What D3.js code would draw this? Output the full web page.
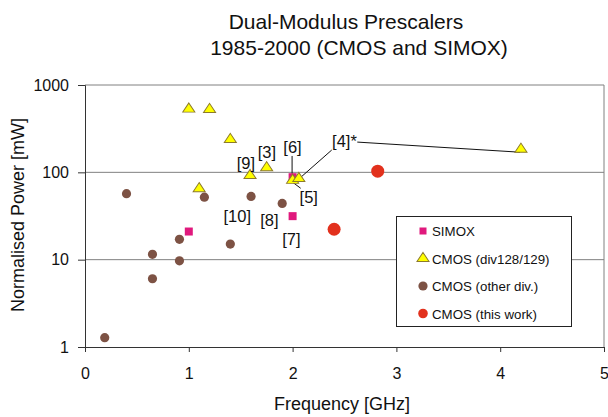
<!DOCTYPE html>
<html>
<head>
<meta charset="utf-8">
<script src="https://cdn.jsdelivr.net/npm/d3@7"></script>
<style>
  body { margin: 0; background: #fff; }
  svg { display: block; font-family: "Liberation Sans", Arial, sans-serif; }
</style>
</head>
<body>
<div id="chart"></div>
<script>
// series: frequency [GHz] / normalised power [mW]
var simoxFreq = [1.0, 2.0, 2.0];
var simoxPower = [21, 31.5, 88];

var div128Freq = [1.0, 1.2, 1.4, 1.59, 1.75, 1.1, 2.0, 2.06, 4.2];
var div128Power = [530, 525, 238, 92, 113, 65, 81, 85, 184];

var otherFreq = [0.40, 1.15, 1.60, 1.90, 1.40, 0.91, 0.65, 0.91, 0.65, 0.19];
var otherPower = [57, 52, 53, 44, 15.1, 17.1, 11.5, 9.7, 6.05, 1.28];

var thisFreq = [2.82, 2.40];
var thisPower = [103, 22.3];

var xTicks = [0, 1, 2, 3, 4, 5];
var yTicks = [1, 10, 100, 1000];

// reference labels, anchored in data units
var refLabels = ['[9]', '[3]', '[6]', '[4]*', '[5]', '[10]', '[8]', '[7]'];
var refLabelFreq = [1.55, 1.753, 1.999, 2.50, 2.156, 1.467, 1.776, 1.988];
var refLabelPower = [109, 147, 168, 197, 44, 27.2, 24.3, 14.7];

// leader lines [x1, y1, x2, y2]
var leaders = [
  [1.995, 154, 1.995, 89],
  [2.377, 180, 2.068, 85.5],
  [2.623, 222, 4.19, 170],
  [2.078, 65.7, 1.994, 78]
];

var legendNames = ['SIMOX', 'CMOS (div128/129)', 'CMOS (other div.)', 'CMOS (this work)'];

var W = 608, H = 417;
var svg = d3.select('#chart').append('svg').attr('width', W).attr('height', H);

var x = d3.scaleLinear().domain([0, 5]).range([85, 604]);
var y = d3.scaleLog().domain([1, 1000]).range([347, 85]);

var zip = function(fs, ps) {
  return fs.map(function(f, i) { return {f: f, p: ps[i]}; });
};

// title
svg.append('text').attr('x', 346).attr('y', 29).attr('text-anchor', 'middle')
  .attr('font-size', 21).attr('fill', '#111').text('Dual-Modulus Prescalers');
svg.append('text').attr('x', 359).attr('y', 55).attr('text-anchor', 'middle')
  .attr('font-size', 21).attr('fill', '#111').text('1985-2000 (CMOS and SIMOX)');

// grid lines
svg.append('g').selectAll('line').data([10, 100, 1000]).enter().append('line')
  .attr('x1', x(0)).attr('x2', x(5))
  .attr('y1', function(d) { return y(d); }).attr('y2', function(d) { return y(d); })
  .attr('stroke', '#808080').attr('stroke-width', 1);
svg.append('line').attr('x1', x(5)).attr('x2', x(5)).attr('y1', y(1000)).attr('y2', y(1))
  .attr('stroke', '#808080');

// axes
var yAxis = d3.axisLeft(y).tickValues(yTicks).tickFormat(d3.format('d')).tickSize(7).tickPadding(9);
var gy = svg.append('g').attr('transform', 'translate(' + x(0) + ',0)').call(yAxis);
var xAxis = d3.axisBottom(x).tickValues(xTicks).tickFormat(d3.format('d')).tickSize(5).tickPadding(15.5);
var gx = svg.append('g').attr('transform', 'translate(0,' + y(1) + ')').call(xAxis);
[gx, gy].forEach(function(g) {
  g.select('.domain').attr('stroke', '#333');
  g.selectAll('.tick line').attr('stroke', '#333');
  g.selectAll('.tick text').attr('font-size', 16).attr('fill', '#111')
    .attr('font-family', '"Liberation Sans", Arial, sans-serif');
});

svg.append('text').attr('x', 342).attr('y', 410).attr('text-anchor', 'middle')
  .attr('font-size', 18).attr('fill', '#111').text('Frequency [GHz]');
svg.append('text').attr('transform', 'translate(24,215) rotate(-90)').attr('text-anchor', 'middle')
  .attr('font-size', 18).attr('fill', '#111').text('Normalised Power [mW]');

// leader lines
svg.append('g').selectAll('line').data(leaders).enter().append('line')
  .attr('x1', function(d) { return x(d[0]); }).attr('y1', function(d) { return y(d[1]); })
  .attr('x2', function(d) { return x(d[2]); }).attr('y2', function(d) { return y(d[3]); })
  .attr('stroke', '#111').attr('stroke-width', 1);

// markers
var tri = d3.symbol().type(d3.symbolTriangle).size(48);

svg.append('g').selectAll('rect').data(zip(simoxFreq, simoxPower)).enter().append('rect')
  .attr('x', function(d) { return x(d.f) - 4; }).attr('y', function(d) { return y(d.p) - 4; })
  .attr('width', 8).attr('height', 8).attr('fill', '#e0197d');

svg.append('g').selectAll('path').data(zip(div128Freq, div128Power)).enter().append('path')
  .attr('d', tri)
  .attr('transform', function(d) { return 'translate(' + x(d.f) + ',' + y(d.p) + ') scale(1.15,1)'; })
  .attr('fill', '#ffff00').attr('stroke', '#8c7a2c').attr('stroke-width', 0.9);

svg.append('g').selectAll('circle').data(zip(otherFreq, otherPower)).enter().append('circle')
  .attr('cx', function(d) { return x(d.f); }).attr('cy', function(d) { return y(d.p); })
  .attr('r', 4.6).attr('fill', '#7d5244');

svg.append('g').selectAll('circle').data(zip(thisFreq, thisPower)).enter().append('circle')
  .attr('cx', function(d) { return x(d.f); }).attr('cy', function(d) { return y(d.p); })
  .attr('r', 6.5).attr('fill', '#e2311d');

// reference labels
svg.append('g').selectAll('text').data(refLabels).enter().append('text')
  .attr('x', function(d, i) { return x(refLabelFreq[i]); })
  .attr('y', function(d, i) { return y(refLabelPower[i]); })
  .attr('text-anchor', 'middle').attr('font-size', 16.5).attr('fill', '#111')
  .text(function(d) { return d; });

// legend
var lg = svg.append('g').attr('transform', 'translate(396,216)');
lg.append('rect').attr('x', 0.5).attr('y', 0.5).attr('width', 175).attr('height', 110)
  .attr('fill', '#fff').attr('stroke', '#222');
var rows = lg.selectAll('g').data(legendNames).enter().append('g')
  .attr('transform', function(d, i) { return 'translate(27,' + (15 + i * 27.5) + ')'; });
rows.append('text').attr('x', 9).attr('y', 5).attr('font-size', 13.3).attr('fill', '#111')
  .text(function(d) { return d; });
rows.each(function(d, i) {
  var g = d3.select(this);
  if (i === 0) g.append('rect').attr('x', -3.5).attr('y', -3.5).attr('width', 7).attr('height', 7).attr('fill', '#e0197d');
  if (i === 1) g.append('path').attr('d', tri).attr('transform', 'scale(1.15,1)')
    .attr('fill', '#ffff00').attr('stroke', '#8c7a2c').attr('stroke-width', 0.9);
  if (i === 2) g.append('circle').attr('r', 4.6).attr('fill', '#7d5244');
  if (i === 3) g.append('circle').attr('r', 4.8).attr('fill', '#e2311d');
});
</script>
</body>
</html>
